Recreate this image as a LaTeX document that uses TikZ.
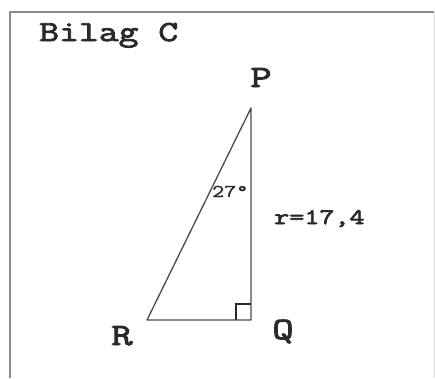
\documentclass[tikz,border=0pt]{standalone}
\usepackage{fontspec}
\newfontfamily\figMonoBold[FakeStretch=1.33, FakeBold=3]{Latin Modern Mono}
\newfontfamily\figMono[FakeStretch=1.3, FakeBold=1.5]{Latin Modern Mono}
\usetikzlibrary{calc,positioning}
\definecolor{figInk}{HTML}{2A2A2A}
\definecolor{figFrame}{HTML}{8C8C8C}
\definecolor{figLine}{HTML}{4A4A4A}
\tikzset{
    figText/.style={
        font=\figMonoBold\fontsize{#1}{#1}\selectfont,
        text=figInk,
        inner sep=0pt
    },
    figAngle/.style={
        font=\figMono\fontsize{18}{18}\selectfont,
        text=figInk,
        inner sep=0pt
    },
    % Lines
    figSide/.style={draw=figLine, line width=1.3pt},
    figBorder/.style={draw=figFrame, line width=2pt}
}
\begin{document}
\begin{tikzpicture}[x=1pt, y=-1pt]
\useasboundingbox (0,0) rectangle (435,378);
\fill[white] (0,0) rectangle (435,378);
\draw[figBorder] (10,378) -- (10,12) -- (434,12);
\draw[draw=figFrame!30, line width=0.8pt] (434,12) -- (434,378);

\node[figText=29, anchor=base west] (title) at (39,41) {Bilag C};

\coordinate (P) at (251,108);
\coordinate (Q) at (251,320);
\coordinate (R) at (147,320);

\draw[figSide, line join=round] (P) -- (Q) -- (R) -- cycle;
\draw[figSide, line width=1.8pt, draw=figInk] ($(Q)+(-15,0)$) -- ++(0,-16) -- ++(15,0);

\node[figText=31, anchor=base] (lblP) at (261,87) {P};
\node[figText=31, anchor=base] (lblR) at (122,345) {R};
\node[figText=31, anchor=base] (lblQ) at (283,339) {Q};
\node[figAngle, anchor=base west] (ang) at (212,197) {27°};
\node[figText=22, anchor=base west] (side) at (274,224) {r=17,4};
\end{tikzpicture}
\end{document}
